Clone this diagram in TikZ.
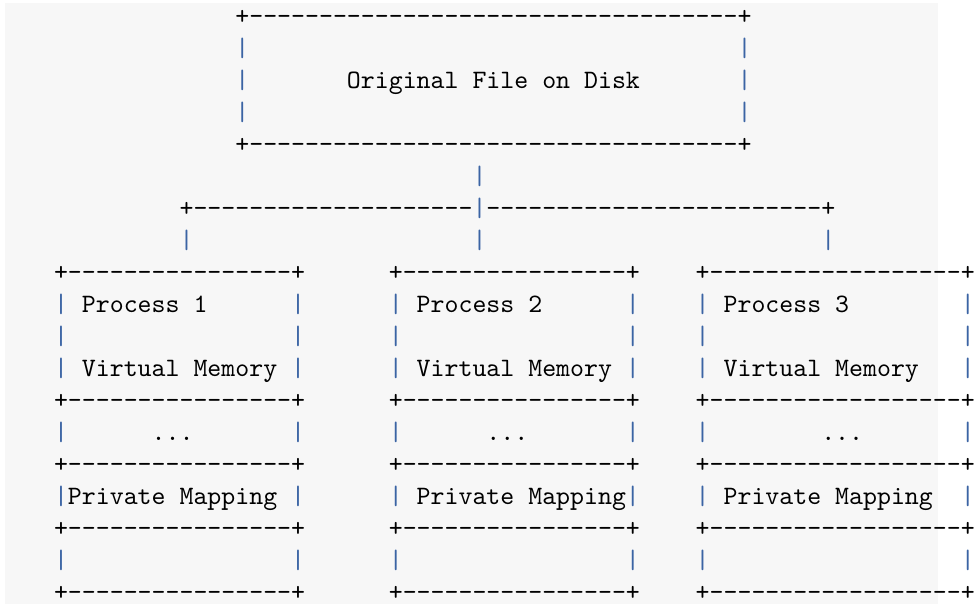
\documentclass[tikz,border=0pt]{standalone}
\definecolor{bg}{HTML}{F7F7F7}
\definecolor{barblue}{HTML}{3B64A4}
\newlength\mwid
\newcommand\cw{13.95}
\newcommand\xo{61}
\newcommand\yo{24.8}
\newcommand\lh{31.96}
\newcommand\scf{1}
\newcommand\mono[1]{\scalebox{\scf}{\fontsize{10}{12}\ttfamily\selectfont #1}}
\newcommand\plusat[2]{\node[ch,anchor=base] at ({\xo+(#2)*\cw},{\yo+(#1)*\lh}) {\mono{+}};}
\newcommand\barat[2]{\node[vb,anchor=base] at ({\xo+(#2)*\cw},{\yo+(#1)*\lh}) {\mono{|}};}
\newcommand\dashes[3]{%
  \foreach \k in {#2,...,#3} {\node[ch,anchor=base] at ({\xo+\k*\cw},{\yo+(#1)*\lh}) {\mono{-}};}}
\newcommand\edge[3]{\plusat{#1}{#2}\pgfmathtruncatemacro\da{#2+1}\pgfmathtruncatemacro\db{#3-1}\dashes{#1}{\da}{\db}\plusat{#1}{#3}}
\newcommand\sides[3]{\barat{#1}{#2}\barat{#1}{#3}}
\newcommand\txt[4]{\node[ch,anchor=base west] (#1) at ({\xo+(#3-0.5)*\cw},{\yo+(#2)*\lh}) {\mono{#4}};}
\begin{document}
\settowidth\mwid{\fontsize{10}{12}\ttfamily\selectfont M}
\begin{tikzpicture}[x=1pt,y=-1pt]
\pgfmathsetmacro\scf{\cw/\mwid}
\tikzset{
  ch/.style={inner sep=0pt, outer sep=0pt, text=black},
  vb/.style={ch, text=barblue}
}
\useasboundingbox (0,0) rectangle (977,604);
\fill[bg] (5,3) rectangle (938,604);
% top box
\edge{0}{13}{49}
\sides{1}{13}{49}
\sides{2}{13}{49}
\txt{title}{2}{21}{Original File on Disk}
\sides{3}{13}{49}
\edge{4}{13}{49}
% connector
\barat{5}{30}
\plusat{6}{9}\dashes{6}{10}{29}\barat{6}{30}\dashes{6}{31}{54}\plusat{6}{55}
\barat{7}{9}\barat{7}{30}\barat{7}{55}
% boxes
\foreach \r in {8,12,14,16,18} {\edge{\r}{0}{17}\edge{\r}{24}{41}\edge{\r}{46}{65}}
\foreach \r in {9,10,11,13,15,17} {\sides{\r}{0}{17}\sides{\r}{24}{41}\sides{\r}{46}{65}}
\txt{p1}{9}{2}{Process 1}
\txt{p2}{9}{26}{Process 2}
\txt{p3}{9}{48}{Process 3}
\txt{v1}{11}{2}{Virtual Memory}
\txt{v2}{11}{26}{Virtual Memory}
\txt{v3}{11}{48}{Virtual Memory}
\txt{d1}{13}{7}{...}
\txt{d2}{13}{31}{...}
\txt{d3}{13}{55}{...}
\txt{m1}{15}{1}{Private Mapping}
\txt{m2}{15}{26}{Private Mapping}
\txt{m3}{15}{48}{Private Mapping}
\end{tikzpicture}
\end{document}
